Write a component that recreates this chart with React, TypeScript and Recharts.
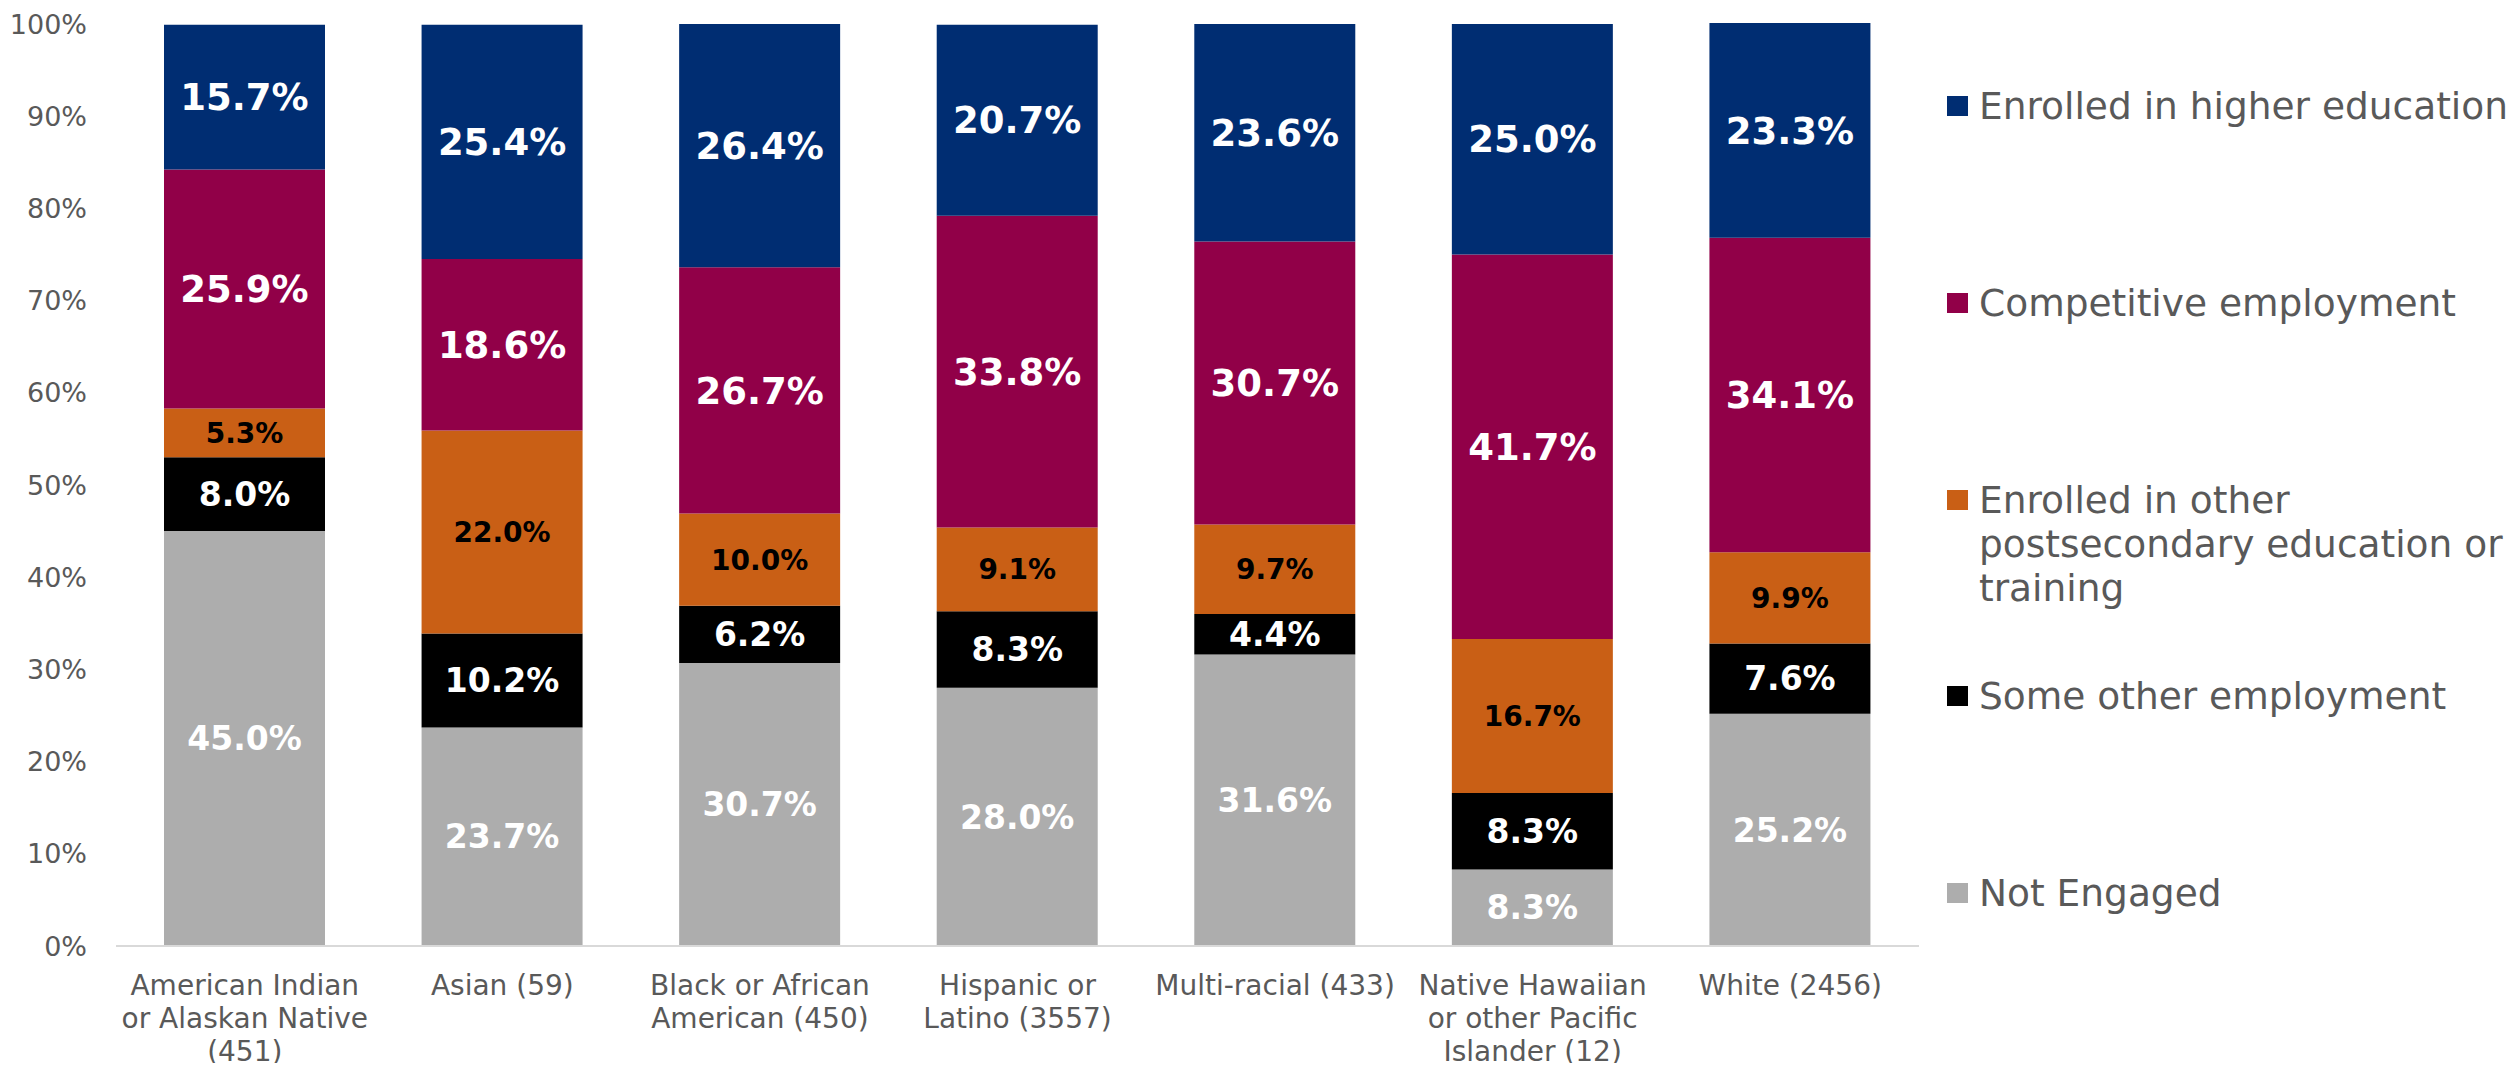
import { BarChart, Bar, XAxis, YAxis, LabelList } from 'recharts'

const categories = [
  'American Indian\nor Alaskan Native\n(451)',
  'Asian (59)',
  'Black or African\nAmerican (450)',
  'Hispanic or\nLatino (3557)',
  'Multi-racial (433)',
  'Native Hawaiian\nor other Pacific\nIslander (12)',
  'White (2456)',
]

const notEngaged = [45.0, 23.7, 30.7, 28.0, 31.6, 8.3, 25.2]
const someOtherEmployment = [8.0, 10.2, 6.2, 8.3, 4.4, 8.3, 7.6]
const otherPostsecondary = [5.3, 22.0, 10.0, 9.1, 9.7, 16.7, 9.9]
const competitiveEmployment = [25.9, 18.6, 26.7, 33.8, 30.7, 41.7, 34.1]
const higherEducation = [15.7, 25.4, 26.4, 20.7, 23.6, 25.0, 23.3]

const yTicks = [0, 10, 20, 30, 40, 50, 60, 70, 80, 90, 100]

// stack order bottom -> top
const series = [
  { key: 'notEngaged', name: 'Not Engaged', color: '#ADADAD', label: '#FFFFFF', size: 33 },
  { key: 'someOther', name: 'Some other employment', color: '#000000', label: '#FFFFFF', size: 33 },
  { key: 'otherPost', name: 'Enrolled in other\npostsecondary education or\ntraining', color: '#C95F15', label: '#000000', size: 28 },
  { key: 'competitive', name: 'Competitive employment', color: '#910048', label: '#FFFFFF', size: 37 },
  { key: 'higherEd', name: 'Enrolled in higher education', color: '#002D72', label: '#FFFFFF', size: 37 },
]

const data = categories.map((c, i) => ({
  category: c,
  notEngaged: notEngaged[i],
  someOther: someOtherEmployment[i],
  otherPost: otherPostsecondary[i],
  competitive: competitiveEmployment[i],
  higherEd: higherEducation[i],
}))

const FONT = '"DejaVu Sans", sans-serif'
const TEXT = '#595959'

function CategoryTick(props: any) {
  const { x, y, payload } = props
  const lines = String(payload.value).split('\n')
  return (
    <text x={x} y={y} textAnchor="middle" fill={TEXT} fontSize={28} fontFamily={FONT}>
      {lines.map((l, i) => (
        <tspan key={i} x={x} dy={i === 0 ? 49 : 33}>{l}</tspan>
      ))}
    </text>
  )
}

function Legend() {
  const items = [...series].reverse()
  return (
    <div style={{ position: 'absolute', left: 1939, top: 76, fontFamily: FONT, fontSize: 37.5, color: TEXT, lineHeight: '44px' }}>
      {items.map(s => (
        <div key={s.key} style={{ height: 196.75, position: 'relative' }}>
          <div style={{ position: 'absolute', left: 0, top: 12, width: 21, height: 20, background: s.color }} />
          <div style={{ position: 'absolute', left: 32, top: 0, whiteSpace: 'pre', width: 560 }}>{s.name}</div>
        </div>
      ))}
    </div>
  )
}

export default function App() {
  return (
    <div style={{ position: 'relative', width: 2504, height: 1055, fontFamily: FONT }}>
      <BarChart
        width={2504}
        height={1063}
        data={data}
        margin={{ top: 15, right: 593, bottom: 8, left: 8 }}
      >
        <XAxis
          dataKey="category"
          height={117}
          interval={0}
          tick={<CategoryTick />}
          tickSize={0}
          tickMargin={0}
          tickLine={false}
          axisLine={{ stroke: '#D9D9D9', strokeWidth: 2 }}
        />
        <YAxis
          width={100}
          domain={[0, 100]}
          ticks={yTicks}
          interval={0}
          tickFormatter={(v: number) => `${v}%`}
          tick={{ fill: TEXT, fontSize: 27, fontFamily: FONT }}
          tickSize={0}
          tickMargin={29}
          tickLine={false}
          axisLine={false}
        />
        {series.map(s => (
          <Bar key={s.key} dataKey={s.key} name={s.name} stackId="a" fill={s.color} barSize={161} isAnimationActive={false}>
            <LabelList
              dataKey={s.key}
              position="center"
              fill={s.label}
              fontSize={s.size}
              fontWeight="bold"
              fontFamily={FONT}
              formatter={(v: any) => `${Number(v).toFixed(1)}%`}
            />
          </Bar>
        ))}
      </BarChart>
      <Legend />
    </div>
  )
}
